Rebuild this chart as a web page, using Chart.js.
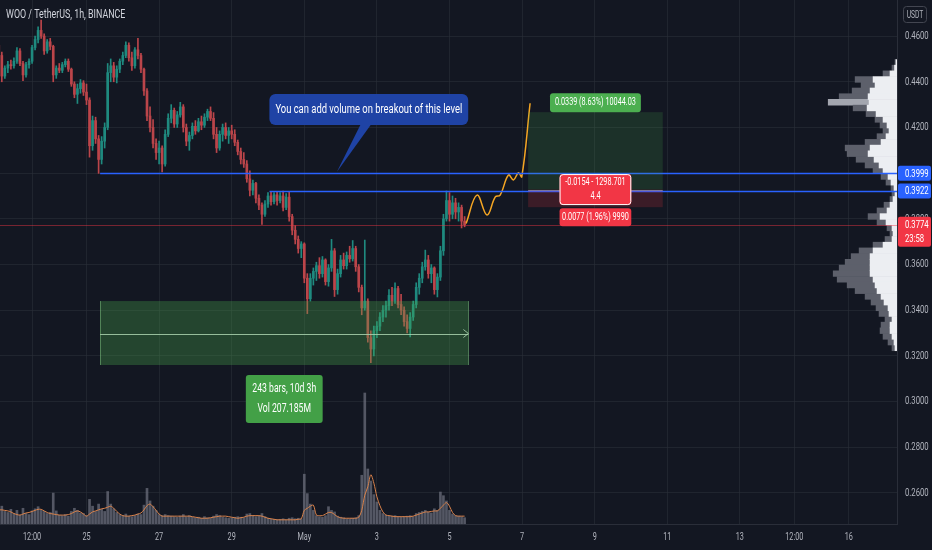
<!DOCTYPE html>
<html lang="en">
<head>
<meta charset="utf-8">
<title>WOO / TetherUS, 1h, BINANCE</title>
<script src="https://cdn.jsdelivr.net/npm/chart.js@4.4.1/dist/chart.umd.min.js"></script>
<style>
  html, body { margin: 0; padding: 0; background: #131722; overflow: hidden; }
  #box { position: relative; width: 932px; height: 550px; }
</style>
</head>
<body>
<div id="box"><canvas id="chart"></canvas></div>
<script>
/**
 * Candles: 2h bars, hours counted from Apr 25 00:00
 */
const firstHour = -58;
const barStep = 2;

const opens = [
  0.4560, 0.4515, 0.4425, 0.4460, 0.4475, 0.4470, 0.4490, 0.4535, 0.4480, 0.4430,
  0.4475, 0.4490, 0.4550, 0.4585, 0.4625, 0.4600, 0.4535, 0.4575, 0.4555, 0.4430,
  0.4460, 0.4450, 0.4475, 0.4490, 0.4455, 0.4390, 0.4345, 0.4370, 0.4395, 0.4355,
  0.4320, 0.4120, 0.4230, 0.4150, 0.4060, 0.4140, 0.4200, 0.4440, 0.4470, 0.4420,
  0.4455, 0.4490, 0.4515, 0.4560, 0.4505, 0.4470, 0.4540, 0.4515, 0.4455, 0.4360,
  0.4250, 0.4200, 0.4130, 0.4090, 0.4110, 0.4040, 0.4170, 0.4240, 0.4275, 0.4215,
  0.4255, 0.4290, 0.4200, 0.4140, 0.4165, 0.4205, 0.4185, 0.4225, 0.4210, 0.4245,
  0.4270, 0.4240, 0.4170, 0.4110, 0.4170, 0.4200, 0.4165, 0.4185, 0.4170, 0.4135,
  0.4095, 0.4060, 0.4040, 0.3975, 0.3925, 0.3955, 0.3890, 0.3860, 0.3820, 0.3865,
  0.3900, 0.3875, 0.3905, 0.3880, 0.3900, 0.3850, 0.3895, 0.3810, 0.3750, 0.3710,
  0.3670, 0.3690, 0.3540, 0.3450, 0.3540, 0.3570, 0.3595, 0.3560, 0.3620, 0.3525,
  0.3585, 0.3660, 0.3490, 0.3560, 0.3620, 0.3595, 0.3640, 0.3625, 0.3670, 0.3590,
  0.3500, 0.3410, 0.3440, 0.3280, 0.3230, 0.3310, 0.3330, 0.3370, 0.3400, 0.3420,
  0.3465, 0.3440, 0.3495, 0.3425, 0.3400, 0.3350, 0.3320, 0.3370, 0.3425, 0.3500,
  0.3540, 0.3590, 0.3620, 0.3560, 0.3585, 0.3490, 0.3545, 0.3660, 0.3800, 0.3880,
  0.3820, 0.3870, 0.3830, 0.3850, 0.3790
];
const highs = [
  0.4575, 0.4530, 0.4470, 0.4490, 0.4495, 0.4505, 0.4550, 0.4545, 0.4490, 0.4485,
  0.4500, 0.4560, 0.4600, 0.4640, 0.4670, 0.4610, 0.4585, 0.4590, 0.4560, 0.4470,
  0.4480, 0.4485, 0.4500, 0.4500, 0.4460, 0.4400, 0.4390, 0.4410, 0.4405, 0.4390,
  0.4330, 0.4250, 0.4245, 0.4165, 0.4160, 0.4220, 0.4480, 0.4500, 0.4485, 0.4470,
  0.4500, 0.4530, 0.4575, 0.4570, 0.4530, 0.4550, 0.4590, 0.4525, 0.4460, 0.4370,
  0.4290, 0.4235, 0.4150, 0.4140, 0.4120, 0.4190, 0.4260, 0.4300, 0.4285, 0.4270,
  0.4310, 0.4300, 0.4215, 0.4180, 0.4220, 0.4230, 0.4240, 0.4250, 0.4260, 0.4280,
  0.4290, 0.4265, 0.4200, 0.4185, 0.4215, 0.4220, 0.4200, 0.4210, 0.4190, 0.4145,
  0.4110, 0.4090, 0.4055, 0.4010, 0.3970, 0.3960, 0.3905, 0.3870, 0.3880, 0.3915,
  0.3920, 0.3915, 0.3920, 0.3915, 0.3922, 0.3910, 0.3920, 0.3820, 0.3770, 0.3725,
  0.3700, 0.3695, 0.3560, 0.3560, 0.3585, 0.3610, 0.3630, 0.3635, 0.3625, 0.3600,
  0.3710, 0.3670, 0.3580, 0.3640, 0.3650, 0.3655, 0.3680, 0.3705, 0.3680, 0.3600,
  0.3510, 0.3707, 0.3450, 0.3310, 0.3330, 0.3350, 0.3390, 0.3420, 0.3440, 0.3490,
  0.3500, 0.3520, 0.3505, 0.3470, 0.3415, 0.3380, 0.3390, 0.3440, 0.3520, 0.3560,
  0.3610, 0.3663, 0.3640, 0.3600, 0.3590, 0.3560, 0.3680, 0.3820, 0.3922, 0.3915,
  0.3900, 0.3890, 0.3870, 0.3860, 0.3810
];
const lows = [
  0.4505, 0.4400, 0.4415, 0.4440, 0.4455, 0.4460, 0.4480, 0.4470, 0.4405, 0.4420,
  0.4460, 0.4480, 0.4540, 0.4570, 0.4590, 0.4520, 0.4525, 0.4540, 0.4400, 0.4415,
  0.4440, 0.4440, 0.4465, 0.4445, 0.4380, 0.4330, 0.4305, 0.4350, 0.4340, 0.4300,
  0.4070, 0.4100, 0.4130, 0.3999, 0.4040, 0.4110, 0.4190, 0.4400, 0.4400, 0.4395,
  0.4440, 0.4475, 0.4505, 0.4490, 0.4450, 0.4460, 0.4500, 0.4440, 0.4340, 0.4230,
  0.4180, 0.4110, 0.4060, 0.4040, 0.4005, 0.4030, 0.4160, 0.4220, 0.4200, 0.4200,
  0.4245, 0.4180, 0.4120, 0.4100, 0.4150, 0.4170, 0.4180, 0.4190, 0.4200, 0.4230,
  0.4230, 0.4150, 0.4090, 0.4100, 0.4140, 0.4150, 0.4130, 0.4150, 0.4120, 0.4080,
  0.4040, 0.4025, 0.3960, 0.3900, 0.3905, 0.3870, 0.3840, 0.3775, 0.3810, 0.3850,
  0.3860, 0.3865, 0.3860, 0.3870, 0.3835, 0.3840, 0.3790, 0.3730, 0.3690, 0.3650,
  0.3630, 0.3520, 0.3385, 0.3440, 0.3510, 0.3530, 0.3540, 0.3545, 0.3510, 0.3505,
  0.3570, 0.3460, 0.3470, 0.3545, 0.3580, 0.3580, 0.3610, 0.3615, 0.3570, 0.3480,
  0.3380, 0.3400, 0.3260, 0.3170, 0.3200, 0.3280, 0.3310, 0.3350, 0.3370, 0.3400,
  0.3420, 0.3430, 0.3410, 0.3380, 0.3330, 0.3300, 0.3283, 0.3355, 0.3410, 0.3470,
  0.3520, 0.3575, 0.3540, 0.3520, 0.3470, 0.3458, 0.3530, 0.3640, 0.3790, 0.3790,
  0.3800, 0.3800, 0.3790, 0.3760, 0.3765
];
const closes = [
  0.4515, 0.4425, 0.4460, 0.4475, 0.4470, 0.4490, 0.4535, 0.4480, 0.4430, 0.4475,
  0.4490, 0.4550, 0.4585, 0.4625, 0.4600, 0.4535, 0.4575, 0.4555, 0.4430, 0.4460,
  0.4450, 0.4475, 0.4490, 0.4455, 0.4390, 0.4345, 0.4370, 0.4395, 0.4355, 0.4320,
  0.4120, 0.4230, 0.4150, 0.4060, 0.4140, 0.4200, 0.4440, 0.4470, 0.4420, 0.4455,
  0.4490, 0.4515, 0.4560, 0.4505, 0.4470, 0.4540, 0.4515, 0.4455, 0.4360, 0.4250,
  0.4200, 0.4130, 0.4090, 0.4110, 0.4040, 0.4170, 0.4240, 0.4275, 0.4215, 0.4255,
  0.4290, 0.4200, 0.4140, 0.4165, 0.4205, 0.4185, 0.4225, 0.4210, 0.4245, 0.4270,
  0.4240, 0.4170, 0.4110, 0.4170, 0.4200, 0.4165, 0.4185, 0.4170, 0.4135, 0.4095,
  0.4060, 0.4040, 0.3975, 0.3925, 0.3955, 0.3890, 0.3860, 0.3820, 0.3865, 0.3900,
  0.3875, 0.3905, 0.3880, 0.3900, 0.3850, 0.3895, 0.3810, 0.3750, 0.3710, 0.3670,
  0.3690, 0.3540, 0.3450, 0.3540, 0.3570, 0.3595, 0.3560, 0.3620, 0.3525, 0.3585,
  0.3660, 0.3490, 0.3560, 0.3620, 0.3595, 0.3640, 0.3625, 0.3670, 0.3590, 0.3500,
  0.3410, 0.3440, 0.3280, 0.3230, 0.3310, 0.3330, 0.3370, 0.3400, 0.3420, 0.3465,
  0.3440, 0.3495, 0.3425, 0.3400, 0.3350, 0.3320, 0.3370, 0.3425, 0.3500, 0.3540,
  0.3590, 0.3620, 0.3560, 0.3585, 0.3490, 0.3545, 0.3660, 0.3800, 0.3880, 0.3820,
  0.3870, 0.3830, 0.3850, 0.3790, 0.3774
];

/**
 * Volume (M) and its moving average
 */
const volumes = [
  3.0, 3.4, 2.4, 2.2, 2.8, 2.0, 2.6, 1.7, 3.0, 2.0,
  1.8, 2.5, 2.9, 3.3, 2.6, 2.4, 2.0, 2.2, 5.9, 2.5,
  1.7, 1.6, 1.8, 1.5, 2.4, 3.0, 2.6, 2.1, 2.0, 1.6,
  4.7, 3.4, 2.4, 3.8, 2.8, 2.4, 6.2, 3.8, 2.9, 2.2,
  1.8, 1.6, 1.9, 1.5, 1.4, 1.6, 1.9, 1.8, 3.6, 6.8,
  4.4, 3.4, 2.6, 1.8, 1.6, 1.8, 1.6, 1.5, 1.4, 1.3,
  1.5, 1.8, 1.4, 1.6, 1.3, 1.2, 1.3, 1.1, 1.4, 1.2,
  1.1, 1.5, 1.8, 1.6, 1.3, 1.2, 1.1, 1.2, 1.3, 1.4,
  1.3, 1.2, 1.9, 2.0, 1.6, 1.4, 1.5, 2.0, 1.4, 1.1,
  0.9, 0.9, 0.8, 0.9, 1.0, 0.8, 1.1, 1.2, 1.0, 1.1,
  1.0, 9.5, 5.8, 3.8, 2.6, 1.6, 1.4, 1.3, 1.6, 3.3,
  2.6, 2.3, 1.5, 1.3, 1.2, 1.0, 1.0, 1.1, 1.2, 1.6,
  9.3, 25.0, 10.5, 8.2, 5.6, 4.2, 2.6, 2.0, 1.7, 1.5,
  1.5, 1.6, 1.4, 1.3, 1.4, 1.5, 1.6, 1.4, 2.0, 2.2,
  2.4, 2.6, 2.3, 2.1, 2.9, 2.6, 6.1, 5.4, 4.4, 2.6,
  1.9, 1.6, 1.5, 1.4, 1.2
];
const volumeMA = [
  2.7, 2.7, 2.6, 2.5, 2.3, 2.0, 1.8, 1.7, 1.9, 2.1,
  2.2, 2.4, 2.6, 2.8, 2.8, 2.5, 2.2, 2.0, 1.9, 1.8,
  1.7, 1.7, 1.7, 1.8, 2.0, 2.3, 2.5, 2.3, 1.9, 1.5,
  1.9, 2.3, 2.5, 2.7, 2.9, 3.0, 3.2, 3.4, 3.0, 2.4,
  1.9, 1.6, 1.5, 1.5, 1.6, 1.7, 1.9, 2.1, 2.7, 3.5,
  3.8, 3.3, 2.6, 1.9, 1.5, 1.5, 1.5, 1.5, 1.5, 1.5,
  1.5, 1.5, 1.5, 1.5, 1.4, 1.3, 1.2, 1.1, 1.1, 1.1,
  1.2, 1.3, 1.4, 1.5, 1.5, 1.5, 1.4, 1.3, 1.2, 1.1,
  1.2, 1.3, 1.5, 1.6, 1.6, 1.6, 1.6, 1.5, 1.3, 1.1,
  1.0, 0.9, 0.8, 0.8, 0.8, 0.8, 0.8, 0.8, 0.8, 0.9,
  1.0, 2.6, 3.0, 3.4, 3.6, 1.7, 1.6, 1.6, 1.9, 2.2,
  2.2, 1.8, 1.4, 1.2, 1.1, 1.1, 1.1, 1.1, 1.1, 1.3,
  2.6, 5.5, 7.1, 9.4, 7.8, 5.2, 3.5, 2.3, 1.7, 1.6,
  1.5, 1.4, 1.4, 1.4, 1.4, 1.4, 1.4, 1.5, 1.7, 1.9,
  2.1, 2.3, 2.3, 2.4, 2.5, 2.5, 3.0, 3.6, 4.1, 3.4,
  2.2, 1.6, 1.5, 1.5, 1.5
];

/**
 * Volume profile (visible range)
 */
const profilePrices = [
  0.466, 0.463, 0.460, 0.457, 0.454, 0.451, 0.448, 0.445, 0.442, 0.439,
  0.436, 0.433, 0.430, 0.427, 0.424, 0.421, 0.418, 0.415, 0.412, 0.409,
  0.406, 0.403, 0.400, 0.397, 0.394, 0.391, 0.388, 0.385, 0.382, 0.379,
  0.376, 0.373, 0.370, 0.367, 0.364, 0.361, 0.358, 0.355, 0.352, 0.349,
  0.346, 0.343, 0.340, 0.337, 0.334, 0.331, 0.328, 0.325, 0.322, 0.319,
  0.316
];
const profileUp = [
  1, 2.5, 7, 24, 22, 27, 29, 28, 30, 21,
  14, 10, 8, 11, 16, 27, 29, 23, 18, 14,
  9, 6, 3, 2, 4, 7, 10, 17, 11, 5,
  4, 5, 14, 24, 27, 27, 27, 27, 24, 22,
  20, 16, 13, 9, 8, 5, 7, 7, 5, 3,
  2
];
const profileDown = [
  1, 2.5, 7, 18, 14, 18, 29, 41, 14, 10,
  8, 7, 6, 9, 16, 25, 21, 18, 14, 10,
  7, 5, 3, 3, 3, 6, 10, 12, 9, 5,
  3, 7, 10, 14, 19, 25, 31, 37, 36, 28,
  22, 16, 13, 12, 10, 7, 9, 10, 9, 6,
  3
];

/**
 * Axes
 */
const priceTicks = [0.26, 0.28, 0.30, 0.32, 0.34, 0.36, 0.38, 0.40, 0.42, 0.44, 0.46];
const timeTickHours = [-36, 0, 48, 96, 144, 192, 240, 288, 336, 384, 432, 468, 504];
const timeTickLabels = ['12:00', '25', '27', '29', 'May', '3', '5', '7', '9', '11', '13', '12:00', '16'];

/**
 * Drawings
 */
const lastPrice = 0.3774;
const lastPriceTimer = '23:58';
const rayPrices = [0.3999, 0.3922];
const rayHours = [9, 121];
const projHours = [251, 258.2, 264.8, 270.3, 273.5, 279, 282.3, 285.6, 287.8, 293.3];
const projPrices = [0.3780, 0.3904, 0.3817, 0.3896, 0.3904, 0.3992, 0.3970, 0.4002, 0.3984, 0.4306];
const rangeHours = [9, 252.5];
const rangePrices = [0.3440, 0.3160];
const rangeText = ['243 bars, 10d 3h', 'Vol 207.185M'];
const positionHours = [292, 381];
const positionTarget = 0.4267;
const positionEntry = 0.3928;
const positionStop = 0.3851;
const positionTexts = ['0.0339 (8.63%) 10044.03', '-0.0154 - 1298.701', '4.4', '0.0077 (1.96%) 9990'];
const calloutTip = { hour: 165.5, price: 0.4005 };
const calloutText = 'You can add volume on breakout of this level';
const title = 'WOO / TetherUS, 1h, BINANCE';

/**
 * Style
 */
const FONT = 'Roboto, sans-serif';
const upColor = '#1f8a7f';
const downColor = '#bb454a';
const gridColor = 'rgba(42, 46, 57, 0.6)';
const axisText = '#b2b5be';

Chart.defaults.font.family = FONT;
Chart.defaults.font.size = 11;
Chart.defaults.color = axisText;

const hours = opens.map((_, i) => firstHour + i * barStep);
const candleColors = closes.map((c, i) => c >= opens[i] ? upColor : downColor);
const pocIndex = profileUp.reduce((best, u, i) =>
  u + profileDown[i] > profileUp[best] + profileDown[best] ? i : best, 0);
const profileDownColors = profilePrices.map((_, i) => i === pocIndex ? '#a3a6af' : '#5d606b');

function hLine(ctx, y, x1, x2) {
  const yy = Math.round(y) + 0.5;
  ctx.beginPath();
  ctx.moveTo(x1, yy);
  ctx.lineTo(x2, yy);
  ctx.stroke();
}

function vLine(ctx, x, y1, y2) {
  const xx = Math.round(x) + 0.5;
  ctx.beginPath();
  ctx.moveTo(xx, y1);
  ctx.lineTo(xx, y2);
  ctx.stroke();
}

function box(ctx, x, y, w, h, r, fill) {
  ctx.beginPath();
  ctx.roundRect(x, y, w, h, r);
  ctx.fillStyle = fill;
  ctx.fill();
}

/**
 * Narrow text (the screenshot is squeezed horizontally)
 */
function textWidth(ctx, text, size, sx) {
  ctx.font = size + 'px ' + FONT;
  return ctx.measureText(text).width * sx;
}

function text(ctx, str, x, y, size, sx, color, align) {
  ctx.save();
  ctx.font = size + 'px ' + FONT;
  ctx.fillStyle = color;
  ctx.textAlign = align || 'center';
  ctx.textBaseline = 'middle';
  ctx.translate(x, y);
  ctx.scale(sx, 1);
  ctx.fillText(str, 0, 0);
  ctx.restore();
}

/**
 * Drawings on top of the series
 */
const drawings = {
  id: 'drawings',
  afterDatasetsDraw(chart) {
    const { ctx, chartArea: area, scales } = chart;
    const px = h => scales.x.getPixelForValue(h);
    const py = p => scales.y.getPixelForValue(p);

    ctx.save();
    ctx.beginPath();
    ctx.rect(area.left, area.top, area.width, area.height);
    ctx.clip();
    ctx.lineWidth = 1;

    /**
     * Last price
     */
    ctx.strokeStyle = 'rgba(242, 54, 69, 0.45)';
    hLine(ctx, py(lastPrice), area.left, area.right);

    /**
     * Rays
     */
    ctx.strokeStyle = '#2962ff';
    ctx.lineWidth = 1.3;
    rayPrices.forEach((p, i) => hLine(ctx, py(p), px(rayHours[i]), area.right));
    ctx.lineWidth = 1;

    /**
     * Date and price range
     */
    const rx1 = px(rangeHours[0]), rx2 = px(rangeHours[1]);
    const ry1 = py(rangePrices[0]), ry2 = py(rangePrices[1]);
    const rMid = Math.round((ry1 + ry2) / 2) + 0.5;
    ctx.fillStyle = 'rgba(76, 175, 80, 0.3)';
    ctx.fillRect(rx1, ry1, rx2 - rx1, ry2 - ry1);
    ctx.strokeStyle = 'rgba(129, 199, 132, 0.5)';
    vLine(ctx, rx1, ry1, ry2);
    vLine(ctx, rx2, ry1, ry2);
    ctx.strokeStyle = 'rgba(170, 210, 175, 0.85)';
    hLine(ctx, rMid, rx1, rx2);
    ctx.beginPath();
    ctx.moveTo(rx2 - 5, rMid - 4);
    ctx.lineTo(rx2, rMid);
    ctx.lineTo(rx2 - 5, rMid + 4);
    ctx.stroke();

    const rw = Math.max(...rangeText.map(t => textWidth(ctx, t, 12, 0.72))) + 13;
    const rcx = (rx1 + rx2) / 2;
    box(ctx, rcx - rw / 2, ry2 + 10, rw, 48, 3, '#43a047');
    text(ctx, rangeText[0], rcx, ry2 + 24, 12, 0.72, '#ffffff');
    text(ctx, rangeText[1], rcx, ry2 + 44, 12, 0.72, '#ffffff');

    /**
     * Long position
     */
    const qx1 = px(positionHours[0]), qx2 = px(positionHours[1]);
    const qt = py(positionTarget), qe = py(positionEntry), qs = py(positionStop);
    const qcx = (qx1 + qx2) / 2;
    ctx.fillStyle = 'rgba(76, 175, 80, 0.17)';
    ctx.fillRect(qx1, qt, qx2 - qx1, qe - qt);
    ctx.fillStyle = 'rgba(242, 54, 69, 0.18)';
    ctx.fillRect(qx1, qe, qx2 - qx1, qs - qe);
    ctx.strokeStyle = 'rgba(150, 150, 190, 0.7)';
    hLine(ctx, qe, qx1, qx2);

    const tw = textWidth(ctx, positionTexts[0], 11, 0.66) + 10;
    box(ctx, qcx - tw / 2, qt - 19, tw, 19, 3, '#4caf50');
    text(ctx, positionTexts[0], qcx, qt - 9.5, 11, 0.66, '#ffffff');

    const mw = Math.max(textWidth(ctx, positionTexts[1], 11, 0.66), textWidth(ctx, positionTexts[3], 11, 0.66)) + 5;
    box(ctx, qcx - mw / 2, qe - 15.5, mw, 31, 3, '#f23645');
    ctx.strokeStyle = '#ffffff';
    ctx.beginPath();
    ctx.roundRect(qcx - mw / 2 + 0.5, qe - 15, mw - 1, 30, 3);
    ctx.stroke();
    text(ctx, positionTexts[1], qcx, qe - 7, 11, 0.66, '#ffffff');
    text(ctx, positionTexts[2], qcx, qe + 7, 11, 0.66, '#ffffff');

    box(ctx, qcx - mw / 2, qs + 1, mw, 18, 3, '#f23645');
    text(ctx, positionTexts[3], qcx, qs + 10, 11, 0.66, '#ffffff');

    /**
     * Callout
     */
    const tx = px(calloutTip.hour), ty = py(calloutTip.price);
    const cw = textWidth(ctx, calloutText, 12, 0.785) + 12;
    const ccx = tx + 32, ctop = ty - 78;
    ctx.fillStyle = '#1f43a5';
    ctx.beginPath();
    ctx.moveTo(tx + 25, ctop + 28);
    ctx.lineTo(tx, ty);
    ctx.lineTo(tx + 36, ctop + 28);
    ctx.closePath();
    ctx.fill();
    box(ctx, ccx - cw / 2, ctop, cw, 31, 6, '#1f43a5');
    text(ctx, calloutText, ccx, ctop + 15.5, 12, 0.785, '#ffffff');

    ctx.restore();
  },

  afterDraw(chart) {
    const { ctx, chartArea: area, scales } = chart;
    const py = p => scales.y.getPixelForValue(p);
    const ax = area.right + 1;

    /**
     * Title
     */
    text(ctx, title, 6, 15, 12, 0.74, '#d1d4dc', 'left');

    /**
     * Axis tick labels
     */
    scales.y.ticks.forEach(t => text(ctx, t.value.toFixed(4), ax + 7, py(t.value), 11, 0.7, axisText, 'left'));
    scales.x.ticks.forEach((t, i) => text(ctx, timeTickLabels[i], scales.x.getPixelForValue(t.value), 537, 11, 0.66, axisText));

    /**
     * Price axis labels
     */
    rayPrices.forEach(p => {
      const y = py(p);
      box(ctx, ax, y - 7.5, 33, 15, 2, '#2962ff');
      text(ctx, p.toFixed(4), ax + 7, y + 0.5, 11, 0.7, '#ffffff', 'left');
    });
    const ly = py(lastPrice);
    box(ctx, ax, ly - 8, 33, 30, 2, '#f23645');
    text(ctx, lastPrice.toFixed(4), ax + 7, ly, 11, 0.7, '#ffffff', 'left');
    text(ctx, lastPriceTimer, ax + 7, ly + 14, 11, 0.7, '#ffffff', 'left');

    ctx.save();
    ctx.strokeStyle = '#434651';
    ctx.lineWidth = 1;
    ctx.beginPath();
    ctx.roundRect(903.5, 6.5, 23, 16, 3);
    ctx.stroke();
    ctx.restore();
    text(ctx, 'USDT', 915, 15, 10, 0.67, axisText);
  }
};

const barBase = { grouped: false, categoryPercentage: 1, barPercentage: 1, borderWidth: 0 };

new Chart(document.getElementById('chart'), {
  type: 'bar',
  data: {
    datasets: [
      {
        type: 'line',
        label: 'Projection',
        order: 0,
        yAxisID: 'y',
        data: projHours.map((h, i) => ({ x: h, y: projPrices[i] })),
        borderColor: '#f5a623',
        borderWidth: 1.5,
        pointRadius: 0,
        tension: 0.4
      },
      {
        ...barBase,
        label: 'Bodies',
        order: 1,
        yAxisID: 'y',
        data: hours.map((h, i) => ({ x: h, y: [Math.min(opens[i], closes[i]), Math.max(opens[i], closes[i])] })),
        backgroundColor: candleColors,
        maxBarThickness: 2
      },
      {
        ...barBase,
        label: 'Wicks',
        order: 2,
        yAxisID: 'y',
        data: hours.map((h, i) => ({ x: h, y: [lows[i], highs[i]] })),
        backgroundColor: candleColors,
        maxBarThickness: 1
      },
      {
        type: 'line',
        label: 'Volume MA',
        order: 3,
        yAxisID: 'yv',
        data: hours.map((h, i) => ({ x: h, y: volumeMA[i] })),
        borderColor: '#d9824b',
        borderWidth: 1,
        pointRadius: 0,
        tension: 0.3
      },
      {
        ...barBase,
        label: 'Volume',
        order: 4,
        yAxisID: 'yv',
        data: hours.map((h, i) => ({ x: h, y: volumes[i] })),
        backgroundColor: 'rgba(112, 116, 128, 0.7)',
        maxBarThickness: 2
      },
      {
        ...barBase,
        label: 'Profile up',
        order: 5,
        indexAxis: 'y',
        xAxisID: 'xp',
        yAxisID: 'yp',
        data: profilePrices.map((p, i) => ({ y: p, x: [0, profileUp[i]] })),
        backgroundColor: '#eceef2',
        maxBarThickness: 7
      },
      {
        ...barBase,
        label: 'Profile down',
        order: 5,
        indexAxis: 'y',
        xAxisID: 'xp',
        yAxisID: 'yp',
        data: profilePrices.map((p, i) => ({ y: p, x: [profileUp[i], profileUp[i] + profileDown[i]] })),
        backgroundColor: profileDownColors,
        maxBarThickness: 7
      }
    ]
  },
  options: {
    responsive: true,
    maintainAspectRatio: false,
    animation: false,
    events: [],
    layout: { padding: 0 },
    plugins: { legend: { display: false }, tooltip: { enabled: false } },
    scales: {
      x: {
        type: 'linear',
        position: 'bottom',
        min: -57.2,
        max: 535.9,
        offset: false,
        afterBuildTicks: s => { s.ticks = timeTickHours.map(v => ({ value: v })); },
        afterFit: s => { s.height = 26; s.paddingLeft = 0; s.paddingRight = 0; },
        ticks: { display: false },
        grid: { color: gridColor, drawTicks: false, offset: false },
        border: { color: '#2a2e39' }
      },
      y: {
        type: 'linear',
        position: 'right',
        min: 0.2464,
        max: 0.4758,
        afterBuildTicks: s => { s.ticks = priceTicks.map(v => ({ value: v })); },
        afterFit: s => { s.width = 35; s.paddingTop = 0; s.paddingBottom = 0; },
        ticks: { display: false },
        grid: { color: gridColor, drawTicks: false },
        border: { color: '#2a2e39' }
      },
      yv: { type: 'linear', display: false, min: 0, max: 100 },
      yp: { type: 'linear', display: false, min: 0.2464, max: 0.4758 },
      xp: { type: 'linear', display: false, min: 0, max: 900, reverse: true, offset: false }
    }
  },
  plugins: [drawings]
});
</script>
</body>
</html>
